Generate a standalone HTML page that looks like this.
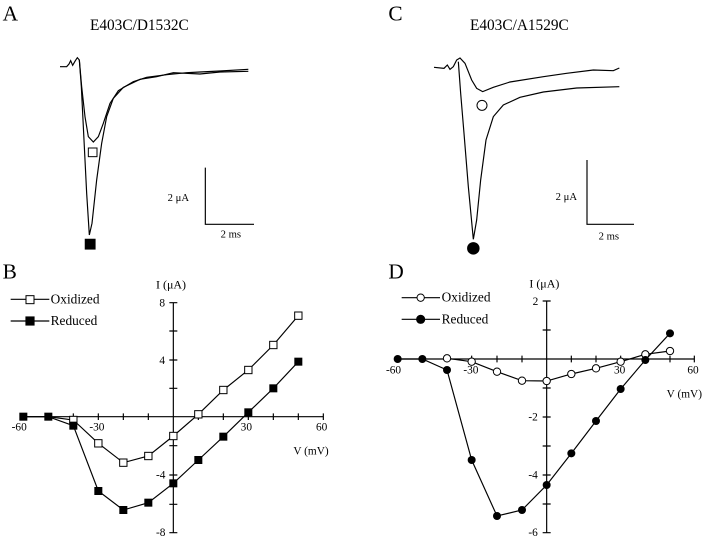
<!DOCTYPE html>
<html><head><meta charset="utf-8"><style>html,body{margin:0;padding:0;background:#fff}svg{display:block}text{font-family:"Liberation Serif",serif;fill:#000}</style></head><body>
<svg width="720" height="541" viewBox="0 0 720 541" xmlns="http://www.w3.org/2000/svg">
<!-- A -->
<g transform="scale(0.33333)" fill="none" stroke="#000" stroke-width="3.5">
<text x="8" y="62" font-size="64" stroke="none">A</text>
<text x="270" y="90" font-size="46" stroke="none">E403C/D1532C</text>
<path d="M180,200 L200,200 L207,192 L212,182 L218,196 L226,182 L232,173 L238,180 L245,260 L255,350 L265,410 L280,426 L295,410 L310,370 L330,310 L355,272 L400,245 L440,232 L500,224 L560,218 L600,216 L660,213 L745,208"/>
<path d="M238,180 L244,260 L252,420 L260,580 L268,705 L276,670 L290,540 L305,430 L320,350 L340,295 L370,262 L420,238 L470,230 L520,218 L600,222 L660,216 L745,214"/>
<rect x="265" y="444" width="26" height="26" fill="#fff" stroke-width="3"/>
<rect x="256" y="718" width="29" height="29" fill="#000"/>
<path d="M616,503 L616,673 L762,673"/>
<text x="503" y="603" font-size="32" stroke="none">2 μA</text>
<text x="662" y="713" font-size="32" stroke="none">2 ms</text>
</g>
<!-- C -->
<g transform="translate(360,0) scale(0.33333)" fill="none" stroke="#000" stroke-width="3.5">
<text x="85" y="62" font-size="64" stroke="none">C</text>
<text x="330" y="90" font-size="46" stroke="none">E403C/A1529C</text>
<path d="M222,202 L252,205 L262,195 L270,208 L280,200 L290,180 L300,174 L315,190 L335,240 L350,265 L368,275 L400,262 L450,246 L550,230 L620,220 L700,210 L760,212 L778,204"/>
<path d="M295,185 L302,280 L312,400 L325,560 L340,718 L350,660 L362,540 L378,420 L400,350 L430,315 L480,292 L550,276 L650,264 L778,260"/>
<circle cx="366" cy="316" r="15" fill="#fff" stroke-width="3"/>
<circle cx="340" cy="745" r="17" fill="#000"/>
<path d="M681,480 L681,673 L822,673"/>
<text x="587" y="600" font-size="32" stroke="none">2 μA</text>
<text x="716" y="718" font-size="32" stroke="none">2 ms</text>
</g>
<!-- B -->
<g transform="translate(0,260) scale(0.33333)" fill="none" stroke="#000" stroke-width="3.5">
<text x="8" y="55" font-size="64" stroke="none">B</text>
<text x="468" y="85" font-size="36" stroke="none">I (μA)</text>
<path d="M520,128 L520,818 M70,470 L970,470"/>
<path d="M508,128 H532 M508,213 H532 M508,300 H532 M508,385 H532 M508,557 H532 M508,645 H532 M508,733 H532 M508,818 H532"/>
<path d="M70,460 V480 M145,460 V480 M220,460 V480 M295,460 V480 M370,460 V480 M445,460 V480 M595,460 V480 M670,460 V480 M745,460 V480 M820,460 V480 M895,460 V480 M970,460 V480"/>
<g stroke="none" font-size="34">
<text x="478" y="140">8</text><text x="478" y="312">4</text><text x="468" y="655">-4</text><text x="468" y="828">-8</text>
<text x="35" y="512">-60</text><text x="268" y="512">-30</text><text x="722" y="512">30</text><text x="948" y="512">60</text>
<text x="880" y="583">V (mV)</text>
<text x="152" y="130" font-size="40">Oxidized</text><text x="152" y="195" font-size="40">Reduced</text>
</g>
<path d="M32,118 H148 M32,183 H148"/>
<rect x="78" y="107" width="24" height="24" fill="#fff" stroke-width="3"/>
<rect x="78" y="171" width="24" height="24" fill="#000"/>
<polyline points="70,470 145,470 220,480 295,550 370,608 445,588 520,528 595,463 670,390 745,330 820,255 895,167"/>
<polyline points="70,470 145,470 220,497 295,693 370,750 445,728 520,670 595,600 670,530 745,457 820,385 895,305"/>
<g fill="#fff" stroke-width="3">
<rect x="209" y="469" width="22" height="22"/><rect x="284" y="539" width="22" height="22"/><rect x="359" y="597" width="22" height="22"/><rect x="434" y="577" width="22" height="22"/><rect x="509" y="517" width="22" height="22"/><rect x="584" y="452" width="22" height="22"/><rect x="659" y="379" width="22" height="22"/><rect x="734" y="319" width="22" height="22"/><rect x="809" y="244" width="22" height="22"/><rect x="884" y="156" width="22" height="22"/>
</g>
<g fill="#000" stroke="none">
<rect x="58" y="458" width="24" height="24"/><rect x="133" y="458" width="24" height="24"/><rect x="208" y="485" width="24" height="24"/><rect x="283" y="681" width="24" height="24"/><rect x="358" y="738" width="24" height="24"/><rect x="433" y="716" width="24" height="24"/><rect x="508" y="658" width="24" height="24"/><rect x="583" y="588" width="24" height="24"/><rect x="658" y="518" width="24" height="24"/><rect x="733" y="445" width="24" height="24"/><rect x="808" y="373" width="24" height="24"/><rect x="883" y="293" width="24" height="24"/>
</g>
</g>
<!-- D -->
<g transform="translate(360,260) scale(0.33333)" fill="none" stroke="#000" stroke-width="3.5">
<text x="85" y="55" font-size="64" stroke="none">D</text>
<text x="508" y="82" font-size="36" stroke="none">I (μA)</text>
<path d="M560,123 L560,818 M113,297 L1003,297"/>
<path d="M548,123 H572 M548,210 H572 M548,384 H572 M548,471 H572 M548,558 H572 M548,645 H572 M548,732 H572 M548,818 H572"/>
<path d="M113,287 V307 M187,287 V307 M261,287 V307 M335,287 V307 M411,287 V307 M486,287 V307 M634,287 V307 M708,287 V307 M782,287 V307 M856,287 V307 M930,287 V307 M1003,287 V307"/>
<g stroke="none" font-size="34">
<text x="518" y="135">2</text><text x="505" y="482">-2</text><text x="505" y="656">-4</text><text x="505" y="828">-6</text>
<text x="78" y="340">-60</text><text x="310" y="340">-30</text><text x="762" y="340">30</text><text x="982" y="340">60</text>
<text x="920" y="412">V (mV)</text>
<text x="245" y="125" font-size="40">Oxidized</text><text x="245" y="190" font-size="40">Reduced</text>
</g>
<path d="M125,113 H240 M125,178 H240"/>
<circle cx="182" cy="113" r="11" fill="#fff" stroke-width="3"/>
<circle cx="182" cy="178" r="12" fill="#000"/>
<polyline points="113,297 187,297 261,330 335,600 411,768 486,750 560,675 634,580 708,483 782,387 856,300 930,220"/>
<polyline points="261,295 335,305 411,335 486,362 560,363 634,342 708,325 782,305 856,283 930,273"/>
<g fill="#fff" stroke-width="3">
<circle cx="261" cy="295" r="11"/><circle cx="335" cy="305" r="11"/><circle cx="411" cy="335" r="11"/><circle cx="486" cy="362" r="11"/><circle cx="560" cy="363" r="11"/><circle cx="634" cy="342" r="11"/><circle cx="708" cy="325" r="11"/><circle cx="782" cy="305" r="11"/><circle cx="856" cy="283" r="11"/><circle cx="930" cy="273" r="11"/>
</g>
<g fill="#000" stroke="none">
<circle cx="113" cy="297" r="12"/><circle cx="187" cy="297" r="12"/><circle cx="261" cy="330" r="12"/><circle cx="335" cy="600" r="12"/><circle cx="411" cy="768" r="12"/><circle cx="486" cy="750" r="12"/><circle cx="560" cy="675" r="12"/><circle cx="634" cy="580" r="12"/><circle cx="708" cy="483" r="12"/><circle cx="782" cy="387" r="12"/><circle cx="856" cy="300" r="12"/><circle cx="930" cy="220" r="12"/>
</g>
</g>
</svg>
</body></html>
